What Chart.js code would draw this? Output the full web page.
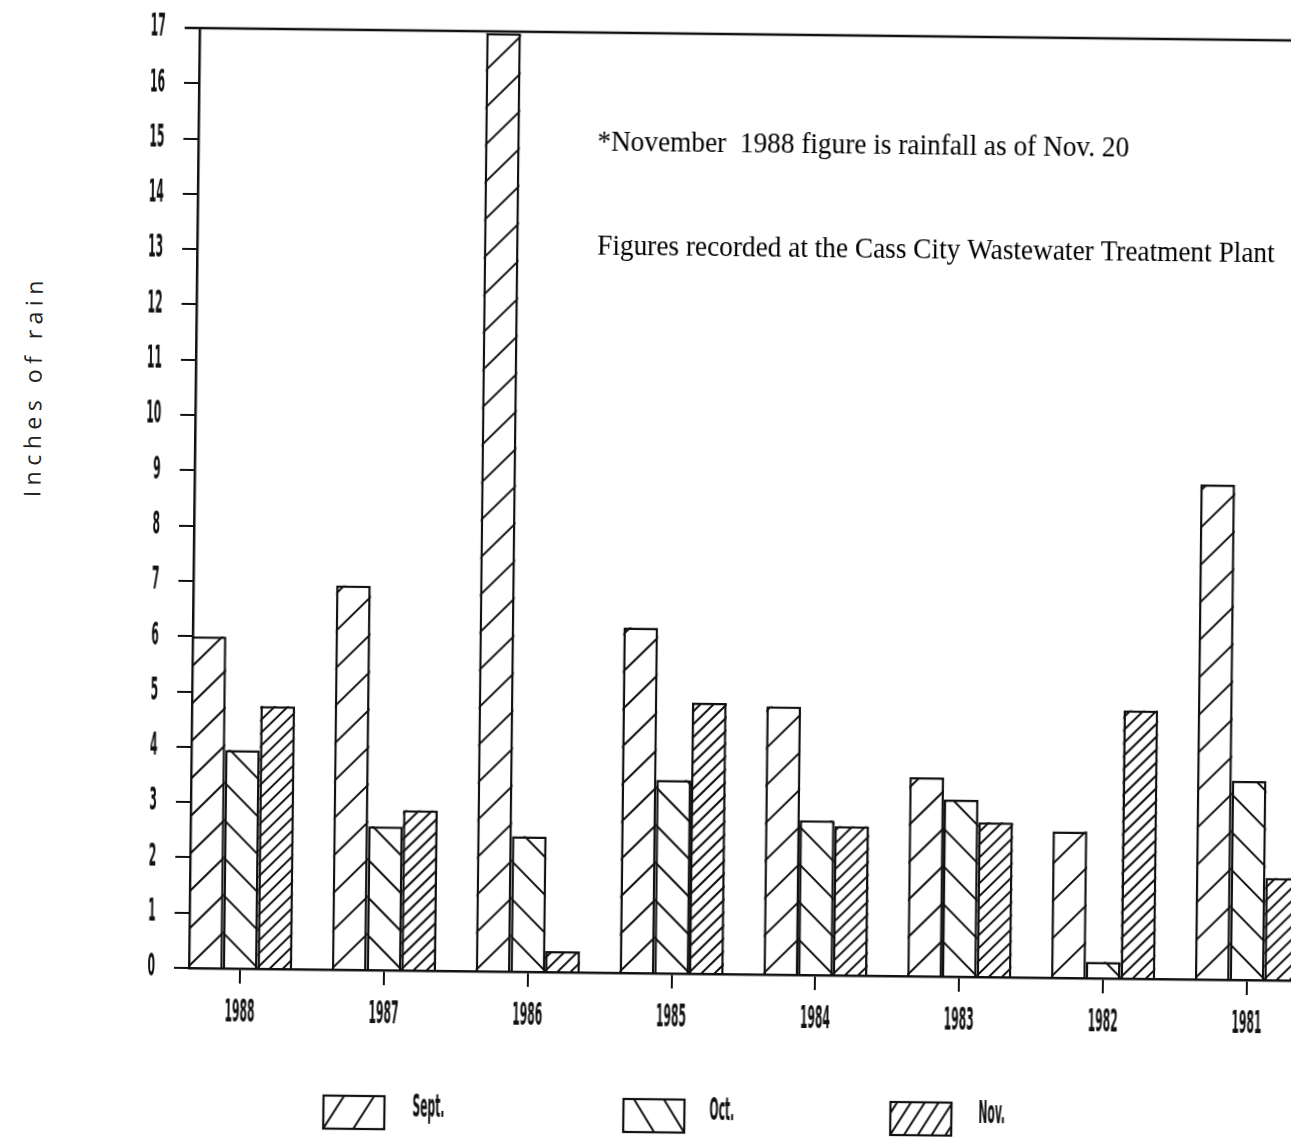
<!DOCTYPE html>
<html>
<head>
<meta charset="utf-8">
<title>Rainfall Sept-Nov, Cass City</title>
<script src="https://cdn.jsdelivr.net/npm/chart.js@4.4.0/dist/chart.umd.min.js"></script>
<style>
  html, body { margin: 0; padding: 0; background: #fff; overflow: hidden; width: 1291px; height: 1137px; }
  /* the scanned page is turned slightly clockwise */
  #wrap { position: absolute; left: 0; top: 0; width: 1330px; height: 1137px;
          transform: rotate(0.65deg); transform-origin: 189px 968px; }
  #c { position: absolute; left: 0; top: 0; }
  #ytitle { position: absolute; left: 26px; top: 388px; transform: translate(-50%, -50%) rotate(-90deg);
            font-family: "Open Sans", "DejaVu Sans", sans-serif; font-weight: 400; font-size: 23px;
            letter-spacing: 5.5px; white-space: nowrap; color: #222; }
</style>
</head>
<body>
<div id="wrap">
  <div id="ytitle">Inches of rain</div>
  <canvas id="c" width="1330" height="1137"></canvas>
</div>
<script>
// Rainfall (inches) for Sept / Oct / Nov, 1988 back to 1981

const years = [1988, 1987, 1986, 1985, 1984, 1983, 1982, 1981];
const sept  = [6.0, 6.95, 16.97, 6.25, 4.85, 3.6, 2.65, 8.95];
const oct   = [3.95, 2.6, 2.45, 3.5, 2.8, 3.2, 0.3, 3.6];
const nov   = [4.75, 2.9, 0.38, 4.9, 2.7, 2.8, 4.85, 1.85];
const seriesNames = ['Sept.', 'Oct.', 'Nov.'];
const notes = [
  '*November  1988 figure is rainfall as of Nov. 20',
  'Figures recorded at the Cass City Wastewater Treatment Plant',
];

// hatch styles: dir 1 = "/" anchored bottom-left, dir -1 = "\" anchored bottom-right
const HATCH  = [{dir: 1, gap: 37.5, slope: 1}, {dir: -1, gap: 37.5, slope: 1}, {dir: 1, gap: 13, slope: 1}];
const LHATCH = [{dir: 1, gap: 48, slope: 1.6}, {dir: -1, gap: 48, slope: 1.6}, {dir: 1, gap: 22, slope: 1.6}];
const NARROW = 'bold 16px "Liberation Sans Narrow", "DejaVu Sans Condensed", sans-serif';
const SERIF  = '27.3px "Liberation Serif", "Times New Roman", serif';

function hatch(ctx, l, t, r, b, h) {
  ctx.save();
  ctx.beginPath(); ctx.rect(l, t, r - l, b - t); ctx.clip();
  ctx.strokeStyle = '#111'; ctx.lineWidth = 2;
  const ax = h.dir > 0 ? l : r;
  const M = (r - l) + 20;
  ctx.beginPath();
  for (let k = -Math.ceil(M * h.slope / h.gap) - 1; k * h.gap < (b - t) + M * h.slope; k++) {
    const y0 = b - k * h.gap;
    ctx.moveTo(ax - h.dir * M, y0 + M * h.slope);
    ctx.lineTo(ax + h.dir * M, y0 - M * h.slope);
  }
  ctx.stroke();
  ctx.restore();
}

function tallText(ctx, txt, x, y, align) {
  ctx.save();
  ctx.translate(x, y); ctx.scale(0.75, 2);
  ctx.font = NARROW; ctx.fillStyle = '#111';
  ctx.textAlign = align; ctx.textBaseline = 'middle';
  ctx.fillText(txt, 0, 0);
  ctx.restore();
}

const decor = {
  id: 'decor',
  afterDatasetsDraw(chart) {
    const ctx = chart.ctx;
    chart.data.datasets.forEach((ds, i) => {
      chart.getDatasetMeta(i).data.forEach(bar => {
        const p = bar.getProps(['x', 'y', 'base', 'width']);
        hatch(ctx, p.x - p.width / 2, Math.min(p.y, p.base), p.x + p.width / 2, Math.max(p.y, p.base), HATCH[i]);
      });
    });
  },
  afterDraw(chart) {
    const ctx = chart.ctx, a = chart.chartArea;
    const xs = chart.scales.x, ys = chart.scales.y;

    // top frame line
    ctx.save();
    ctx.strokeStyle = '#111'; ctx.lineWidth = 2.5;
    ctx.beginPath(); ctx.moveTo(a.left - 15, a.top); ctx.lineTo(a.right, a.top); ctx.stroke();
    ctx.restore();

    ys.ticks.forEach(t => tallText(ctx, String(t.value), a.left - 34, ys.getPixelForValue(t.value), 'right'));
    xs.ticks.forEach(t => tallText(ctx, String(t.value), xs.getPixelForValue(t.value), a.bottom + 45, 'center'));

    // notes
    ctx.save();
    ctx.font = SERIF; ctx.fillStyle = '#000'; ctx.textBaseline = 'alphabetic';
    [[notes[0], 588, 146], [notes[1], 589, 250]].forEach(([s, x, y]) => {
      ctx.save(); ctx.translate(x, y); ctx.scale(1, 1.08); ctx.fillText(s, 0, 0); ctx.restore();
    });
    ctx.restore();

    // legend
    const boxes = [[325, 414], [625, 711], [892, 980]];
    boxes.forEach(([bx, tx], i) => {
      const t = 1094, w = 61, h = 33;
      ctx.save();
      ctx.fillStyle = '#fff'; ctx.fillRect(bx, t, w, h);
      hatch(ctx, bx, t, bx + w, t + h, LHATCH[i]);
      ctx.strokeStyle = '#111'; ctx.lineWidth = 2.2; ctx.strokeRect(bx, t, w, h);
      ctx.restore();
      tallText(ctx, seriesNames[i], tx, 1106, 'left');
    });
  }
};

const pts = vals => years.map((y, i) => ({x: y, y: vals[i]}));
const barStyle = {backgroundColor: '#fff', borderColor: '#111', borderWidth: 2.5,
                  barPercentage: 1, categoryPercentage: 0.724};

new Chart(document.getElementById('c'), {
  type: 'bar',
  data: {
    datasets: [
      {label: seriesNames[0], data: pts(sept), ...barStyle},
      {label: seriesNames[1], data: pts(oct),  ...barStyle},
      {label: seriesNames[2], data: pts(nov),  ...barStyle},
    ],
  },
  options: {
    responsive: false, animation: false,
    layout: {padding: {top: 28, left: 0, right: 0, bottom: 0}},
    plugins: {legend: {display: false}, tooltip: {enabled: false}},
    scales: {
      x: {
        type: 'linear', reverse: true, min: 1980.423, max: 1988.355, offset: false,
        ticks: {display: false, stepSize: 1, includeBounds: false},
        grid: {offset: false, drawOnChartArea: false, drawTicks: true, tickLength: 15, color: '#111', lineWidth: 2},
        border: {display: true, color: '#111', width: 2.5},
        afterFit: s => { s.height = 1137 - 968; },
      },
      y: {
        min: 0, max: 17,
        ticks: {display: false, stepSize: 1},
        grid: {drawOnChartArea: false, drawTicks: true, tickLength: 15, color: '#111', lineWidth: 2},
        border: {display: true, color: '#111', width: 2.5},
        afterFit: s => { s.width = 189; },
      },
    },
  },
  plugins: [decor],
});
</script>
</body>
</html>
